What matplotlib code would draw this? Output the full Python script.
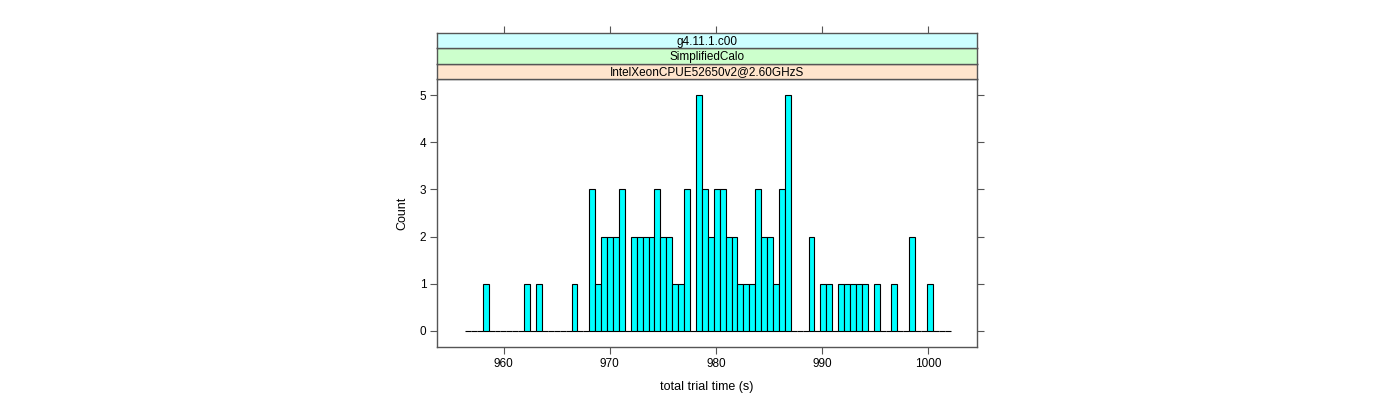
import numpy as np
import matplotlib
matplotlib.use("Agg")
import matplotlib.pyplot as plt
from matplotlib.patches import Rectangle

# histogram bins (lattice-style equal breaks)
bin_start = 956.35
bin_width = 0.558
n_bins = 82

# counts per bin, bins not listed are zero
filled_bins = [3, 10, 12, 18,
               21, 22, 23, 24, 25, 26,
               28, 29, 30, 31, 32, 33, 34, 35, 36, 37,
               39, 40, 41, 42, 43, 44, 45, 46, 47, 48, 49, 50, 51, 52, 53, 54,
               58, 60, 61, 63, 64, 65, 66, 67, 69, 72, 75, 78]
filled_counts = [1, 1, 1, 1,
                 3, 1, 2, 2, 2, 3,
                 2, 2, 2, 2, 3, 2, 2, 1, 1, 3,
                 5, 3, 2, 3, 3, 2, 2, 1, 1, 1, 3, 2, 2, 1, 3, 5,
                 2, 1, 1, 1, 1, 1, 1, 1, 1, 1, 2, 1]

strip_labels = ["IntelXeonCPUE52650v2@2.60GHzS", "SimplifiedCalo", "g4.11.1.c00"]
strip_colors = ["#ffe5cc", "#ccffcc", "#ccffff"]

x_ticks = [960, 970, 980, 990, 1000]
y_ticks = [0, 1, 2, 3, 4, 5]

counts = np.zeros(n_bins)
counts[filled_bins] = filled_counts
lefts = bin_start + np.arange(n_bins) * bin_width

plt.rcParams['font.family'] = ['Liberation Sans', 'DejaVu Sans']
axis_col = "#555555"

fig = plt.figure(figsize=(14, 4), dpi=100)
W, H = 1400, 400
px_l, px_r, px_t, px_b = 437.3, 977, 79, 347
ax = fig.add_axes([px_l / W, 1 - px_b / H, (px_r - px_l) / W, (px_b - px_t) / H])

ax.bar(lefts, counts, width=bin_width, align='edge', color='#00ffff',
       edgecolor='black', linewidth=0.8)

ax.set_xlim(953.75, 1004.58)
ax.set_ylim(-0.35, 5.35)
ax.set_xticks(x_ticks)
ax.set_yticks(y_ticks)
ax.tick_params(direction='out', length=5, width=0.8, color=axis_col,
               labelsize=8.5, top=False, right=True, pad=3)
for s in ax.spines.values():
    s.set_color(axis_col)
    s.set_linewidth(1.0)
ax.set_xlabel("total trial time (s)", fontsize=9, labelpad=8)
ax.set_ylabel("Count", fontsize=9, labelpad=8)

# strips stacked above panel
strip_h = 15.3
for i, (lab, col) in enumerate(zip(strip_labels, strip_colors)):
    bottom_px = px_t - i * strip_h
    sax = fig.add_axes([px_l / W, 1 - bottom_px / H, (px_r - px_l) / W, strip_h / H])
    sax.set_facecolor(col)
    sax.set_xticks([])
    sax.set_yticks([])
    for s in sax.spines.values():
        s.set_color(axis_col)
        s.set_linewidth(1.0)
    sax.text(0.5, 0.45, lab, ha='center', va='center', fontsize=8.5,
             transform=sax.transAxes)
    if i == len(strip_labels) - 1:
        # top ticks sit above the topmost strip
        sax.set_xlim(ax.get_xlim())
        sax.set_xticks(x_ticks)
        sax.tick_params(axis='x', bottom=False, top=True, labelbottom=False,
                        direction='out', length=5, width=0.8, color=axis_col)

fig.savefig("out.png", dpi=100)
